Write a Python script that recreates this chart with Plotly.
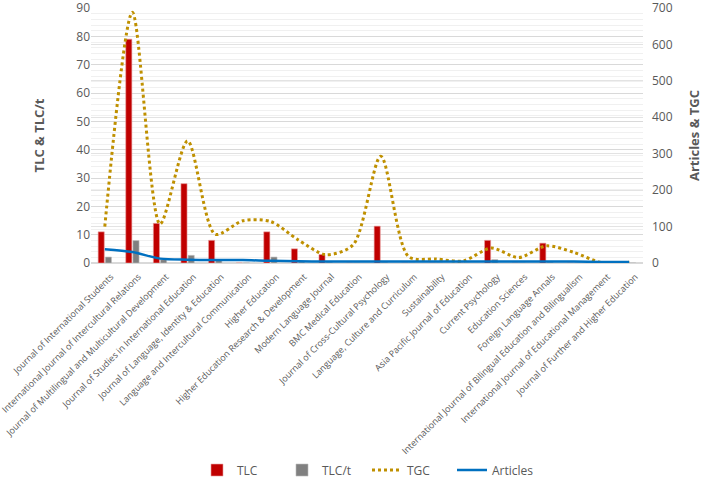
import plotly.graph_objects as go

journals = [
    "Journal of International Students",
    "International Journal of Intercultural Relations",
    "Journal of Multilingual and Multicultural Development",
    "Journal of Studies in International Education",
    "Journal of Language, Identity & Education",
    "Language and Intercultural Communication",
    "Higher Education",
    "Higher Education Research & Development",
    "Modern Language Journal",
    "BMC Medical Education",
    "Journal of Cross-Cultural Psychology",
    "Language, Culture and Curriculum",
    "Sustainability",
    "Asia Pacific Journal of Education",
    "Current Psychology",
    "Education Sciences",
    "Foreign Language Annals",
    "International Journal of Bilingual Education and Bilingualism",
    "International Journal of Educational Management",
    "Journal of Further and Higher Education",
]
tlc = [11, 79, 14, 28, 8, 0, 11, 5, 3, 0, 13, 0, 0, 0, 8, 0, 7, 0, 0, 0]
tlc_t = [2.1, 7.9, 1.2, 2.7, 1.0, 0, 2.1, 0.4, 0.3, 0, 0.2, 0, 0, 0, 1.2, 0, 0.3, 0, 0, 0]
tgc = [100, 688, 107, 335, 79, 116, 114, 64, 23, 50, 293, 18, 11, 6, 41, 15, 47, 29, 1, 2]
articles = [38, 30, 12, 9, 8, 8, 6, 5, 4, 4, 4, 4, 4, 4, 4, 4, 4, 4, 3, 3]

font = "Open Sans"
fig = go.Figure()
fig.add_trace(go.Bar(x=journals, y=tlc, name="TLC", marker=dict(color="#C00000", line=dict(color="#E8A0A0", width=0.6))))
fig.add_trace(go.Bar(x=journals, y=tlc_t, name="TLC/t", marker=dict(color="#808080", line=dict(color="#BBBBBB", width=0.6))))
fig.add_trace(go.Scatter(x=journals, y=tgc, name="TGC", yaxis="y2", mode="lines",
                         line=dict(color="#BF9000", width=3, dash="dot", shape="spline", smoothing=0.8)))
fig.add_trace(go.Scatter(x=journals, y=articles, name="Articles", yaxis="y2", mode="lines",
                         line=dict(color="#0070C0", width=2.5, shape="spline", smoothing=0.8)))

fig.update_layout(
    width=704, height=480,
    margin=dict(l=91, r=61, t=8, b=217, autoexpand=False),
    paper_bgcolor="white", plot_bgcolor="white",
    barmode="group", bargap=0.48, bargroupgap=0.15,
    font=dict(family=font, color="#595959"),
    xaxis=dict(tickangle=-45, tickfont=dict(size=9, color="#595959"), showgrid=False, automargin=False,
               ticklabelshift=6, ticklabelstandoff=4,
               showline=True, linecolor="#D9D9D9", linewidth=1, ticks=""),
    yaxis=dict(range=[0, 90], dtick=10, tickfont=dict(size=12, color="#595959"), automargin=False,
               ticklabeloverflow="allow",
               showgrid=True, gridcolor="#D9D9D9", zeroline=True, zerolinecolor="#D9D9D9",
               minor=dict(dtick=2, showgrid=True, gridcolor="#F0F0F0"),
               title=dict(text="<b>TLC & TLC/t</b>", font=dict(size=13, color="#595959"), standoff=28)),
    yaxis2=dict(range=[0, 700], dtick=100, overlaying="y", side="right", automargin=False,
                ticklabeloverflow="allow", ticklabelstandoff=8,
                tickfont=dict(size=12, color="#595959"), showgrid=True, gridcolor="#E3E3E3",
                zeroline=False,
                title=dict(text="<b>Articles & TGC</b>", font=dict(size=13, color="#595959"), standoff=18)),
    legend=dict(orientation="h", xanchor="center", x=0.5, yanchor="middle", y=-0.812,
                font=dict(size=12, color="#595959"), traceorder="normal", entrywidth=40),
)
fig.write_html("out.html", post_script="document.body.style.margin='0';",
               config={"displayModeBar": False})
